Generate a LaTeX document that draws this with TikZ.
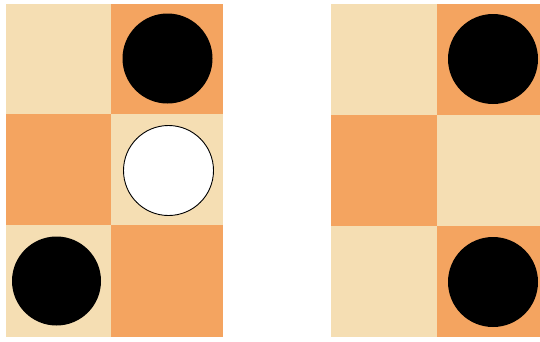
\documentclass[tikz,border=0pt]{standalone}
\usepackage{tikz}
\definecolor{Wheat}{HTML}{F5DEB3}
\definecolor{Sandy}{HTML}{F4A460}
\tikzset{
    lightcell/.style={fill=Wheat},
    darkcell/.style={fill=Sandy},
    blackstone/.style={fill=black},
    whitestone/.style={fill=white, draw=black, line width=0.9pt},
}

\begin{document}
\begin{tikzpicture}[x=1pt, y=-1pt]
    % Area totale
    \useasboundingbox (0,0) rectangle (540,341);

    % Scacchiera sinistra
    \foreach \xa/\xb [count=\c] in {6/111, 111/223}
        \foreach \ya/\yb [count=\r] in {4/114, 114/225, 225/337} {
            \pgfmathtruncatemacro{\parity}{mod(\c+\r,2)}
            \ifnum\parity=0 \fill[lightcell] (\xa,\ya) rectangle (\xb,\yb);
            \else \fill[darkcell] (\xa,\ya) rectangle (\xb,\yb); \fi
        }

    % Scacchiera destra
    \foreach \xa/\xb [count=\c] in {331/437, 437/540}
        \foreach \ya/\yb [count=\r] in {4/115, 115/226, 226/337} {
            \pgfmathtruncatemacro{\parity}{mod(\c+\r,2)}
            \ifnum\parity=0 \fill[lightcell] (\xa,\ya) rectangle (\xb,\yb);
            \else \fill[darkcell] (\xa,\ya) rectangle (\xb,\yb); \fi
        }

    % Pedine
    \fill[blackstone] (167.5,58.5) circle (45);
    \draw[whitestone] (168.5,170.5) circle (45);
    \fill[blackstone] (56.5,281) circle (44.5);
    \fill[blackstone] (493,59) circle (45);
    \fill[blackstone] (493,282) circle (45);
\end{tikzpicture}
\end{document}
